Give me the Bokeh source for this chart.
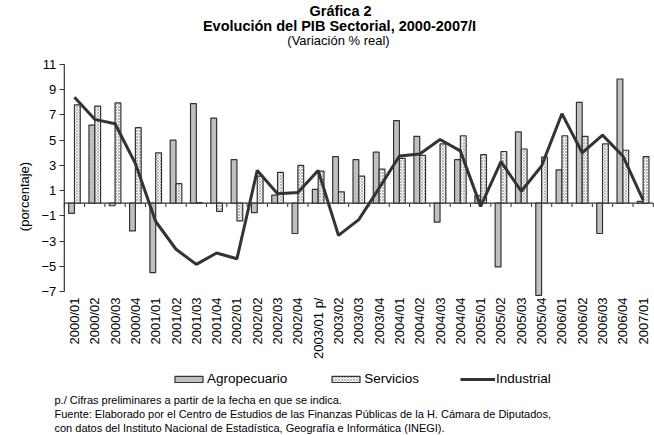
import math
from bokeh.plotting import figure
from bokeh.models import (Range1d, FixedTicker, Legend, LegendItem, Label,
                          ColumnDataSource)
from bokeh.transform import dodge
from bokeh.embed import file_html
from bokeh.resources import INLINE

periods = ["2000/01", "2000/02", "2000/03", "2000/04", "2001/01", "2001/02", "2001/03",
           "2001/04", "2002/01", "2002/02", "2002/03", "2002/04", "2003/01 p/", "2003/02",
           "2003/03", "2003/04", "2004/01", "2004/02", "2004/03", "2004/04", "2005/01",
           "2005/02", "2005/03", "2005/04", "2006/01", "2006/02", "2006/03", "2006/04",
           "2007/01"]
agropecuario = [-0.8, 6.2, -0.2, -2.2, -5.5, 5.0, 7.9, 6.75, 3.45, -0.75, 0.65, -2.4, 1.1,
                3.7, 3.45, 4.05, 6.55, 5.3, -1.5, 3.45, 0.6, -5.05, 5.65, -7.3, 2.65, 8.0,
                -2.4, 9.85, 0.15]
servicios = [7.8, 7.7, 7.95, 6.0, 4.0, 1.55, 0.05, -0.65, -1.4, 2.15, 2.45, 3.0, 2.55, 0.9,
             2.15, 2.7, 3.55, 3.8, 4.7, 5.35, 3.85, 4.1, 4.3, 3.65, 5.35, 5.3, 4.7, 4.2, 3.7]
industrial = [8.4, 6.65, 6.3, 3.15, -1.45, -3.65, -4.85, -3.95, -4.4, 2.6, 0.75, 0.85, 2.6,
              -2.55, -1.3, 1.2, 3.75, 3.9, 5.05, 4.15, -0.25, 3.3, 0.95, 2.95, 7.1, 4.0,
              5.4, 3.75, 0.25]
y_ticks = [-7, -5, -3, -1, 1, 3, 5, 7, 9, 11]

title_lines = ["Gráfica 2", "Evolución del PIB Sectorial, 2000-2007/I", "(Variación % real)"]
y_title = "(porcentaje)"
notes = ["p./ Cifras preliminares a partir de la fecha en que se indica.",
         "Fuente: Elaborado por el Centro de Estudios de las Finanzas Públicas de la H. Cámara de Diputados,",
         "con datos del Instituto Nacional de Estadística, Geografía e Informática (INEGI)."]

FONT = "Liberation Sans"
DARK = "#333333"

# page geometry (pixels); the canvas is the whole drawing area
W, H = 654, 435
AREA_LEFT, AREA_W = 63.8, 589.0     # category area
AREA_TOP, AREA_H = 64.0, 227.0      # value area (-7 .. 11)

n = len(periods)
cat_px = AREA_W / n
ppu = AREA_H / (y_ticks[-1] - y_ticks[0])
x_start = -0.5 - AREA_LEFT / cat_px
x_end = x_start + W / cat_px
y_end = y_ticks[-1] + AREA_TOP / ppu
y_start = y_end - H / ppu

idx = list(range(n))
src = ColumnDataSource(dict(x=idx, agro=agropecuario, serv=servicios, ind=industrial))

p = figure(width=W, height=H, output_backend="svg", toolbar_location=None,
           x_range=Range1d(x_start, x_end), y_range=Range1d(y_start, y_end),
           min_border_left=0, min_border_right=0, min_border_top=0, min_border_bottom=0,
           background_fill_color="white", border_fill_color="white")
p.title.text = ""
p.outline_line_color = None
p.xgrid.visible = False
p.ygrid.visible = False

# zero line with category separators
p.segment(x0=[-0.5], y0=[0], x1=[n - 0.5], y1=[0], line_color=DARK, line_width=1.3)
bounds = [i - 0.5 for i in range(n + 1)]
p.segment(x0=bounds, y0=[0] * len(bounds), x1=bounds, y1=[-0.3] * len(bounds),
          line_color=DARK, line_width=1)
# value axis line
p.segment(x0=[-0.5], y0=[y_ticks[0]], x1=[-0.5], y1=[y_ticks[-1]],
          line_color=DARK, line_width=1.2)

bw = 0.286
r_agro = p.vbar(x=dodge("x", -bw / 2, range=p.x_range), top="agro", width=bw, source=src,
                fill_color="#c0c0c0", line_color=DARK, line_width=1.2)
r_serv = p.vbar(x=dodge("x", bw / 2, range=p.x_range), top="serv", width=bw, source=src,
                fill_color="white", line_color=DARK, line_width=1.2,
                hatch_pattern="x", hatch_scale=3, hatch_color="#8a8a8a", hatch_weight=0.6)
r_ind = p.line("x", "ind", source=src, line_color=DARK, line_width=3)

# y axis, fixed at the left edge of the category area
yax = p.yaxis[0]
yax.fixed_location = -0.5
yax.ticker = FixedTicker(ticks=y_ticks)
yax.minor_tick_line_color = None
yax.axis_line_color = None
yax.major_tick_line_color = DARK
yax.major_tick_out = 5
yax.major_tick_in = 0
yax.major_label_standoff = 3
yax.major_label_text_font = FONT
yax.major_label_text_font_size = "13px"
yax.major_label_text_color = "black"

# y axis title
p.add_layout(Label(x=24, y=H - 196, x_units="screen", y_units="screen", text=y_title,
                   angle=math.pi / 2, text_align="center", text_baseline="middle",
                   text_font=FONT, text_font_size="13px", text_color="black"))

# x axis, fixed at the bottom of the value span
xax = p.xaxis[0]
xax.fixed_location = y_ticks[0]
xax.ticker = FixedTicker(ticks=idx)
xax.major_label_overrides = {i: lab for i, lab in enumerate(periods)}
xax.major_label_orientation = math.pi / 2
xax.axis_line_color = None
xax.major_tick_line_color = None
xax.minor_tick_line_color = None
xax.major_tick_out = 0
xax.major_tick_in = 0
xax.major_label_standoff = 6
xax.major_label_text_font = FONT
xax.major_label_text_font_size = "13px"
xax.major_label_text_color = "black"

# legend (location = bottom-left corner, px from the canvas bottom-left)
legend = Legend(items=[LegendItem(label="Agropecuario", renderers=[r_agro]),
                       LegendItem(label="Servicios", renderers=[r_serv]),
                       LegendItem(label="Industrial", renderers=[r_ind])],
                orientation="horizontal", location=(171, H - 386),
                glyph_width=35, glyph_height=8, label_standoff=1, spacing=41,
                label_text_font=FONT, label_text_font_size="13.5px", label_height=14,
                label_text_color="black", label_text_baseline="middle",
                border_line_color=None, background_fill_alpha=0, padding=0, margin=0)
p.add_layout(legend, "center")

# titles (page px -> screen px from bottom-left)
title_specs = [(340, 10, "14.5px", "bold"), (339, 25, "14.5px", "bold"),
               (338, 40, "13px", "normal")]
for txt, (tx, ty, fs, st) in zip(title_lines, title_specs):
    p.add_layout(Label(x=tx, y=H - ty, x_units="screen", y_units="screen", text=txt,
                       text_align="center", text_baseline="middle", text_font=FONT,
                       text_font_size=fs, text_font_style=st, text_color="black"))

note_ys = [399, 413, 427]
for txt, ny in zip(notes, note_ys):
    p.add_layout(Label(x=54, y=H - ny, x_units="screen", y_units="screen", text=txt,
                       text_align="left", text_baseline="middle", text_font=FONT,
                       text_font_size="11px", text_color="black"))

open("out.html", "w").write(file_html(p, INLINE))
